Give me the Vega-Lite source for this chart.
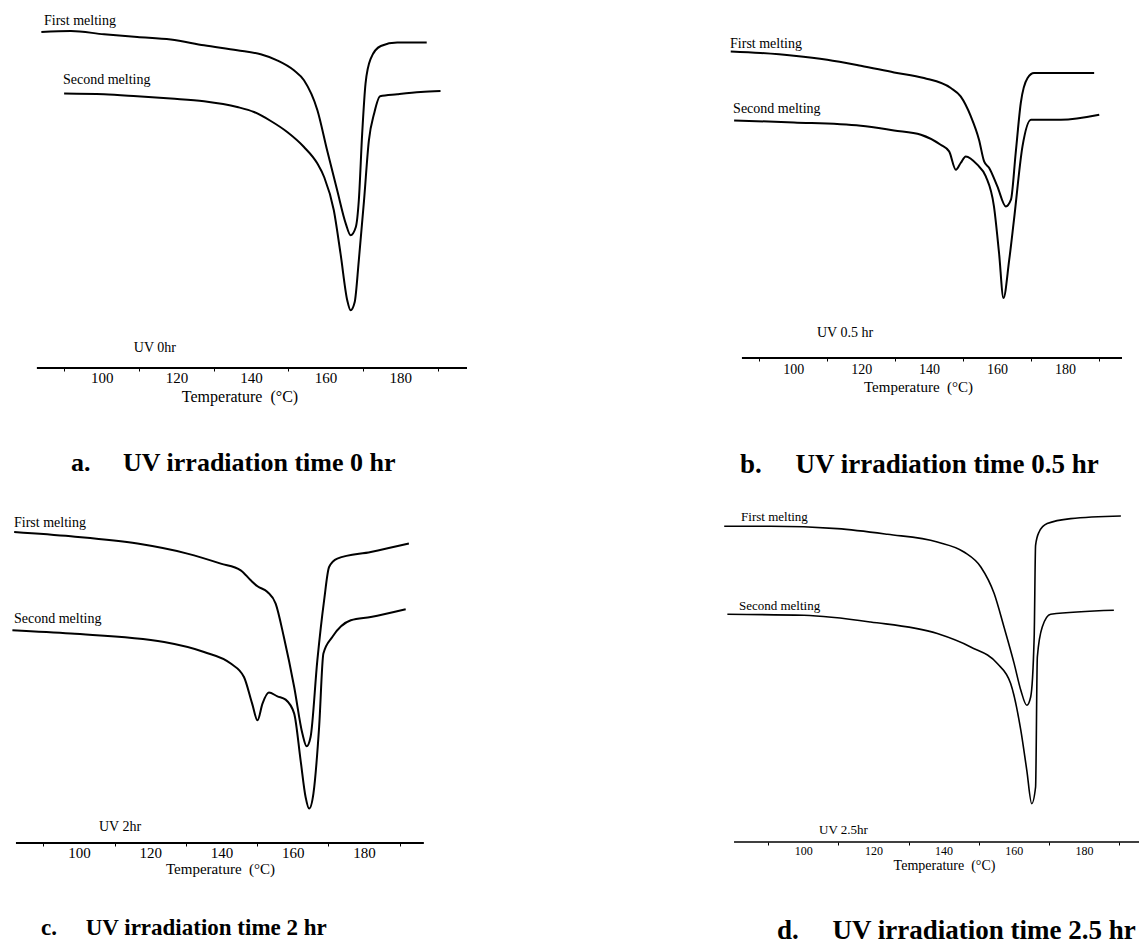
{
  "$schema": "https://vega.github.io/schema/vega-lite/v6.json",
  "background": "white",
  "padding": {"left": 8, "top": 8, "right": 0, "bottom": 0},
  "columns": 2,
  "spacing": {"row": 132, "column": 257},
  "bounds": "flush",
  "datasets": {
    "a_axis": [{"T": 82.6, "T2": 197.9, "h": 0}],
    "a_curves": [
      {"run": "First melting", "T": 83.8, "h": 336}, {"run": "First melting", "T": 91.7, "h": 337}, {"run": "First melting", "T": 100.6, "h": 333.7}, {"run": "First melting", "T": 109.5, "h": 331}, {"run": "First melting", "T": 118.5, "h": 328.4}, {"run": "First melting", "T": 127.4, "h": 322.7}, {"run": "First melting", "T": 136.3, "h": 317.7}, {"run": "First melting", "T": 142.6, "h": 313.7}, {"run": "First melting", "T": 147, "h": 307.7}, {"run": "First melting", "T": 151.5, "h": 297.7}, {"run": "First melting", "T": 154.2, "h": 287.7}, {"run": "First melting", "T": 157.8, "h": 257.7}, {"run": "First melting", "T": 160.4, "h": 217.7}, {"run": "First melting", "T": 163.1, "h": 177.7}, {"run": "First melting", "T": 165.4, "h": 144.4}, {"run": "First melting", "T": 166.7, "h": 132.7}, {"run": "First melting", "T": 168.1, "h": 141}, {"run": "First melting", "T": 168.9, "h": 167.7}, {"run": "First melting", "T": 169.8, "h": 234.4}, {"run": "First melting", "T": 170.7, "h": 284.4}, {"run": "First melting", "T": 172.1, "h": 309.4}, {"run": "First melting", "T": 174.8, "h": 322}, {"run": "First melting", "T": 179.2, "h": 325.4}, {"run": "First melting", "T": 187.1, "h": 325.4},
      {"run": "Second melting", "T": 89.9, "h": 274.4}, {"run": "Second melting", "T": 100.6, "h": 273.7}, {"run": "Second melting", "T": 109.5, "h": 271.7}, {"run": "Second melting", "T": 118.5, "h": 269.4}, {"run": "Second melting", "T": 127.4, "h": 266.7}, {"run": "Second melting", "T": 136.3, "h": 261}, {"run": "Second melting", "T": 140.8, "h": 256}, {"run": "Second melting", "T": 145.3, "h": 247}, {"run": "Second melting", "T": 149.7, "h": 236}, {"run": "Second melting", "T": 154.2, "h": 221}, {"run": "Second melting", "T": 157.8, "h": 204.4}, {"run": "Second melting", "T": 159.6, "h": 191}, {"run": "Second melting", "T": 162.2, "h": 157.7}, {"run": "Second melting", "T": 164, "h": 114.4}, {"run": "Second melting", "T": 165.8, "h": 67.7}, {"run": "Second melting", "T": 166.7, "h": 57.7}, {"run": "Second melting", "T": 167.8, "h": 66}, {"run": "Second melting", "T": 168.9, "h": 107.7}, {"run": "Second melting", "T": 170.3, "h": 167.7}, {"run": "Second melting", "T": 171.6, "h": 227.7}, {"run": "Second melting", "T": 173, "h": 254.4}, {"run": "Second melting", "T": 174.6, "h": 271.7}, {"run": "Second melting", "T": 179.2, "h": 273.7}, {"run": "Second melting", "T": 185.5, "h": 276}, {"run": "Second melting", "T": 190.8, "h": 277}
    ],
    "a_labels": [
      {"T": 84.5, "h": 346.7, "label": "First melting"},
      {"T": 89.6, "h": 287.7, "label": "Second melting"},
      {"T": 108.6, "h": 19.7, "label": "UV 0hr"}
    ],
    "b_axis": [{"T": 84.9, "T2": 196.8, "h": 0}],
    "b_curves": [
      {"run": "First melting", "T": 81.6, "h": 306.6}, {"run": "First melting", "T": 90.4, "h": 305}, {"run": "First melting", "T": 100.2, "h": 302.3}, {"run": "First melting", "T": 110, "h": 298.3}, {"run": "First melting", "T": 119.9, "h": 292.3}, {"run": "First melting", "T": 129.7, "h": 285.6}, {"run": "First melting", "T": 138.5, "h": 280}, {"run": "First melting", "T": 146.4, "h": 270}, {"run": "First melting", "T": 149.3, "h": 261.6}, {"run": "First melting", "T": 152.3, "h": 241.6}, {"run": "First melting", "T": 154.7, "h": 218.3}, {"run": "First melting", "T": 156.2, "h": 196.6}, {"run": "First melting", "T": 157.7, "h": 190}, {"run": "First melting", "T": 160.1, "h": 171.6}, {"run": "First melting", "T": 162.6, "h": 151.6}, {"run": "First melting", "T": 164.1, "h": 158.3}, {"run": "First melting", "T": 165.5, "h": 205}, {"run": "First melting", "T": 167, "h": 255}, {"run": "First melting", "T": 169, "h": 280}, {"run": "First melting", "T": 170.9, "h": 285}, {"run": "First melting", "T": 188.6, "h": 285},
      {"run": "Second melting", "T": 82.6, "h": 237.6}, {"run": "Second melting", "T": 100.2, "h": 235.6}, {"run": "Second melting", "T": 119.9, "h": 232.3}, {"run": "Second melting", "T": 129.7, "h": 227.6}, {"run": "Second melting", "T": 137.6, "h": 223.3}, {"run": "Second melting", "T": 143.4, "h": 213.3}, {"run": "Second melting", "T": 145.9, "h": 206.6}, {"run": "Second melting", "T": 147.9, "h": 188.3}, {"run": "Second melting", "T": 149.3, "h": 195}, {"run": "Second melting", "T": 150.8, "h": 201.6}, {"run": "Second melting", "T": 154.2, "h": 193.3}, {"run": "Second melting", "T": 156.7, "h": 181.6}, {"run": "Second melting", "T": 159.1, "h": 151.6}, {"run": "Second melting", "T": 160.6, "h": 105}, {"run": "Second melting", "T": 161.9, "h": 60}, {"run": "Second melting", "T": 163.6, "h": 98.3}, {"run": "Second melting", "T": 165, "h": 138.3}, {"run": "Second melting", "T": 167.5, "h": 211.6}, {"run": "Second melting", "T": 170, "h": 238.3}, {"run": "Second melting", "T": 178.8, "h": 238.3}, {"run": "Second melting", "T": 190.1, "h": 243.3}
    ],
    "b_labels": [
      {"T": 81.4, "h": 314.3, "label": "First melting"},
      {"T": 82.3, "h": 249.3, "label": "Second melting"},
      {"T": 107, "h": 25.3, "label": "UV 0.5 hr"}
    ],
    "c_axis": [{"T": 82.3, "T2": 196.8, "h": 0}],
    "c_curves": [
      {"run": "First melting", "T": 81.8, "h": 311}, {"run": "First melting", "T": 97.7, "h": 306.7}, {"run": "First melting", "T": 116.4, "h": 299.4}, {"run": "First melting", "T": 130.4, "h": 289.4}, {"run": "First melting", "T": 139.8, "h": 279.4}, {"run": "First melting", "T": 145.4, "h": 272.7}, {"run": "First melting", "T": 148.2, "h": 262.7}, {"run": "First melting", "T": 150.1, "h": 256.7}, {"run": "First melting", "T": 152.9, "h": 251}, {"run": "First melting", "T": 155.2, "h": 239.4}, {"run": "First melting", "T": 157.5, "h": 206}, {"run": "First melting", "T": 160.4, "h": 156}, {"run": "First melting", "T": 162.7, "h": 109.4}, {"run": "First melting", "T": 163.9, "h": 96.7}, {"run": "First melting", "T": 165, "h": 106}, {"run": "First melting", "T": 166.9, "h": 182.7}, {"run": "First melting", "T": 168.8, "h": 242.7}, {"run": "First melting", "T": 170.2, "h": 276}, {"run": "First melting", "T": 172.5, "h": 284.4}, {"run": "First melting", "T": 181.9, "h": 291}, {"run": "First melting", "T": 192.6, "h": 299.4},
      {"run": "Second melting", "T": 81.3, "h": 212.7}, {"run": "Second melting", "T": 97.7, "h": 209.4}, {"run": "Second melting", "T": 123.9, "h": 201}, {"run": "Second melting", "T": 135.1, "h": 191}, {"run": "Second melting", "T": 142.6, "h": 179.4}, {"run": "Second melting", "T": 146.3, "h": 166}, {"run": "Second melting", "T": 148.6, "h": 139.4}, {"run": "Second melting", "T": 150.1, "h": 122.7}, {"run": "Second melting", "T": 151.5, "h": 139.4}, {"run": "Second melting", "T": 153.3, "h": 150.4}, {"run": "Second melting", "T": 155.7, "h": 146.7}, {"run": "Second melting", "T": 158, "h": 143.4}, {"run": "Second melting", "T": 160.4, "h": 129.4}, {"run": "Second melting", "T": 162.2, "h": 82.7}, {"run": "Second melting", "T": 163.6, "h": 46}, {"run": "Second melting", "T": 164.6, "h": 34.4}, {"run": "Second melting", "T": 165.8, "h": 49.4}, {"run": "Second melting", "T": 167.4, "h": 116}, {"run": "Second melting", "T": 168.6, "h": 189.4}, {"run": "Second melting", "T": 171.1, "h": 206}, {"run": "Second melting", "T": 176.3, "h": 222.7}, {"run": "Second melting", "T": 181.9, "h": 226}, {"run": "Second melting", "T": 191.7, "h": 233.7}
    ],
    "c_labels": [
      {"T": 81.75, "h": 319.7, "label": "First melting"},
      {"T": 81.75, "h": 223.7, "label": "Second melting"},
      {"T": 105.6, "h": 15.7, "label": "UV 2hr"}
    ],
    "d_axis": [{"T": 80.3, "T2": 196.8, "h": 0}],
    "d_curves": [
      {"run": "First melting", "T": 77.5, "h": 315.7}, {"run": "First melting", "T": 90.7, "h": 315.7}, {"run": "First melting", "T": 109.7, "h": 313.4}, {"run": "First melting", "T": 124, "h": 307.7}, {"run": "First melting", "T": 138.2, "h": 300}, {"run": "First melting", "T": 145.8, "h": 290}, {"run": "First melting", "T": 150.6, "h": 275}, {"run": "First melting", "T": 154.4, "h": 248.4}, {"run": "First melting", "T": 157.2, "h": 215}, {"run": "First melting", "T": 160.1, "h": 178.4}, {"run": "First melting", "T": 162, "h": 151.7}, {"run": "First melting", "T": 163.7, "h": 136.7}, {"run": "First melting", "T": 164.8, "h": 145}, {"run": "First melting", "T": 165.8, "h": 205}, {"run": "First melting", "T": 166.2, "h": 296.7}, {"run": "First melting", "T": 167.2, "h": 310}, {"run": "First melting", "T": 169.5, "h": 318.4}, {"run": "First melting", "T": 176.2, "h": 323.4}, {"run": "First melting", "T": 190.5, "h": 326},
      {"run": "Second melting", "T": 78.4, "h": 227.7}, {"run": "Second melting", "T": 100.2, "h": 226.7}, {"run": "Second melting", "T": 119.2, "h": 220}, {"run": "Second melting", "T": 138.2, "h": 208.4}, {"run": "Second melting", "T": 147.7, "h": 195}, {"run": "Second melting", "T": 155.3, "h": 178.4}, {"run": "Second melting", "T": 159.1, "h": 158.4}, {"run": "Second melting", "T": 162, "h": 111.7}, {"run": "Second melting", "T": 163.7, "h": 71.7}, {"run": "Second melting", "T": 165.1, "h": 38.4}, {"run": "Second melting", "T": 166.2, "h": 55}, {"run": "Second melting", "T": 166.7, "h": 185}, {"run": "Second melting", "T": 168.1, "h": 215}, {"run": "Second melting", "T": 170.5, "h": 227.7}, {"run": "Second melting", "T": 188.5, "h": 231.7}
    ],
    "d_labels": [
      {"T": 82.3, "h": 324.7, "label": "First melting"},
      {"T": 81.7, "h": 235.7, "label": "Second melting"},
      {"T": 104.5, "h": 11.7, "label": "UV 2.5hr"}
    ]
  },
  "concat": [
    {
      "width": 455,
      "height": 360,
      "title": {"text": "a.\u00a0\u00a0\u00a0\u00a0\u00a0UV irradiation time 0 hr", "orient": "bottom", "anchor": "start", "frame": "group", "dx": 59, "offset": 46, "fontSize": 26, "font": "Liberation Serif", "fontWeight": "bold", "color": "black"},
      "encoding": {
        "x": {"field": "T", "type": "quantitative", "scale": {"domain": [75.93, 197.9], "nice": false, "zero": false},
          "axis": {"title": "Temperature\u00a0 (°C)", "values": [90, 100, 110, 120, 130, 140, 150, 160, 170, 180, 190], "domain": false, "grid": false, "tickSize": 3, "tickColor": "black", "tickOpacity": {"condition": {"test": "datum.value % 20 == 0", "value": 0}, "value": 1}, "labelExpr": "datum.value % 20 == 0 ? datum.label : ''", "labelFontSize": 15, "labelFont": "Liberation Serif", "labelColor": "black", "labelPadding": -1, "labelFlush": false, "labelOverlap": false, "titleFontSize": 16, "titleFont": "Liberation Serif", "titleFontWeight": "normal", "titleColor": "black", "titlePadding": 3}},
        "y": {"field": "h", "type": "quantitative", "scale": {"domain": [0, 360], "nice": false, "zero": false}, "axis": null}
      },
      "layer": [
        {"data": {"name": "a_axis"}, "mark": {"type": "rule", "color": "black", "strokeWidth": 2}, "encoding": {"x2": {"field": "T2"}}},
        {"data": {"name": "a_curves"}, "mark": {"type": "line", "interpolate": "monotone", "color": "black", "strokeWidth": 2}, "encoding": {"detail": {"field": "run"}}},
        {"data": {"name": "a_labels"}, "mark": {"type": "text", "align": "left", "baseline": "middle", "fontSize": 14, "font": "Liberation Serif", "color": "black"}, "encoding": {"text": {"field": "label"}}}
      ]
    },
    {
      "width": 398,
      "height": 350,
      "title": {"text": "b.\u00a0\u00a0\u00a0\u00a0\u00a0UV irradiation time 0.5 hr", "orient": "bottom", "anchor": "start", "frame": "group", "dx": 16, "offset": 58, "fontSize": 27, "font": "Liberation Serif", "fontWeight": "bold", "color": "black"},
      "encoding": {
        "x": {"field": "T", "type": "quantitative", "scale": {"domain": [79.62, 196.8], "nice": false, "zero": false},
          "axis": {"title": "Temperature\u00a0 (°C)", "titleX": 194, "values": [90, 100, 110, 120, 130, 140, 150, 160, 170, 180, 190], "domain": false, "grid": false, "tickSize": 3, "tickColor": "black", "tickOpacity": {"condition": {"test": "datum.value % 20 == 0", "value": 0}, "value": 1}, "labelExpr": "datum.value % 20 == 0 ? datum.label : ''", "labelFontSize": 14, "labelFont": "Liberation Serif", "labelColor": "black", "labelPadding": 1, "labelFlush": false, "labelOverlap": false, "titleFontSize": 15, "titleFont": "Liberation Serif", "titleFontWeight": "normal", "titleColor": "black", "titlePadding": 3}},
        "y": {"field": "h", "type": "quantitative", "scale": {"domain": [0, 350], "nice": false, "zero": false}, "axis": null}
      },
      "layer": [
        {"data": {"name": "b_axis"}, "mark": {"type": "rule", "color": "black", "strokeWidth": 2}, "encoding": {"x2": {"field": "T2"}}},
        {"data": {"name": "b_curves"}, "mark": {"type": "line", "interpolate": "monotone", "color": "black", "strokeWidth": 2}, "encoding": {"detail": {"field": "run"}}},
        {"data": {"name": "b_labels"}, "mark": {"type": "text", "align": "left", "baseline": "middle", "fontSize": 14, "font": "Liberation Serif", "color": "black"}, "encoding": {"text": {"field": "label"}}}
      ]
    },
    {
      "width": 455,
      "height": 343,
      "title": {"text": "c.\u00a0\u00a0\u00a0\u00a0\u00a0UV irradiation time 2 hr", "orient": "bottom", "anchor": "start", "frame": "group", "dx": 29, "offset": 41, "fontSize": 23, "font": "Liberation Serif", "fontWeight": "bold", "color": "black"},
      "encoding": {
        "x": {"field": "T", "type": "quantitative", "scale": {"domain": [81.19, 208.91], "nice": false, "zero": false},
          "axis": {"title": "Temperature\u00a0 (°C)", "titleX": 208, "values": [90, 100, 110, 120, 130, 140, 150, 160, 170, 180, 190], "domain": false, "grid": false, "tickSize": 3, "tickColor": "black", "tickOpacity": {"condition": {"test": "datum.value % 20 == 0", "value": 0}, "value": 1}, "labelExpr": "datum.value % 20 == 0 ? datum.label : ''", "labelFontSize": 15, "labelFont": "Liberation Serif", "labelColor": "black", "labelPadding": -1, "labelFlush": false, "labelOverlap": false, "titleFontSize": 15, "titleFont": "Liberation Serif", "titleFontWeight": "normal", "titleColor": "black", "titlePadding": 1}},
        "y": {"field": "h", "type": "quantitative", "scale": {"domain": [0, 343], "nice": false, "zero": false}, "axis": null}
      },
      "layer": [
        {"data": {"name": "c_axis"}, "mark": {"type": "rule", "color": "black", "strokeWidth": 2}, "encoding": {"x2": {"field": "T2"}}},
        {"data": {"name": "c_curves"}, "mark": {"type": "line", "interpolate": "monotone", "color": "black", "strokeWidth": 2}, "encoding": {"detail": {"field": "run"}}},
        {"data": {"name": "c_labels"}, "mark": {"type": "text", "align": "left", "baseline": "middle", "fontSize": 14, "font": "Liberation Serif", "color": "black"}, "encoding": {"text": {"field": "label"}}}
      ]
    },
    {
      "width": 419,
      "height": 342,
      "title": {"text": "d.\u00a0\u00a0\u00a0\u00a0\u00a0UV irradiation time 2.5 hr", "orient": "bottom", "anchor": "start", "frame": "group", "dx": 53, "offset": 46, "fontSize": 27, "font": "Liberation Serif", "fontWeight": "bold", "color": "black"},
      "encoding": {
        "x": {"field": "T", "type": "quantitative", "scale": {"domain": [77.44, 196.8], "nice": false, "zero": false},
          "axis": {"title": "Temperature\u00a0 (°C)", "titleX": 220, "values": [90, 100, 110, 120, 130, 140, 150, 160, 170, 180, 190], "domain": false, "grid": false, "tickSize": 3, "tickColor": "black", "tickOpacity": {"condition": {"test": "datum.value % 20 == 0", "value": 0}, "value": 1}, "labelExpr": "datum.value % 20 == 0 ? datum.label : ''", "labelFontSize": 12, "labelFont": "Liberation Serif", "labelColor": "black", "labelPadding": 0, "labelFlush": false, "labelOverlap": false, "titleFontSize": 14, "titleFont": "Liberation Serif", "titleFontWeight": "normal", "titleColor": "black", "titlePadding": 2}},
        "y": {"field": "h", "type": "quantitative", "scale": {"domain": [0, 342], "nice": false, "zero": false}, "axis": null}
      },
      "layer": [
        {"data": {"name": "d_axis"}, "mark": {"type": "rule", "color": "black", "strokeWidth": 1.5}, "encoding": {"x2": {"field": "T2"}}},
        {"data": {"name": "d_curves"}, "mark": {"type": "line", "interpolate": "monotone", "color": "black", "strokeWidth": 1.6}, "encoding": {"detail": {"field": "run"}}},
        {"data": {"name": "d_labels"}, "mark": {"type": "text", "align": "left", "baseline": "middle", "fontSize": 13, "font": "Liberation Serif", "color": "black"}, "encoding": {"text": {"field": "label"}}}
      ]
    }
  ],
  "config": {
    "view": {"stroke": null},
    "font": "Liberation Serif"
  }
}
